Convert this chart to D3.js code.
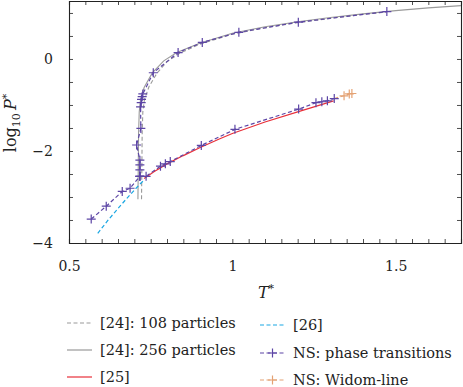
<!DOCTYPE html>
<html>
<head>
<meta charset="utf-8">
<script src="https://cdn.jsdelivr.net/npm/d3@7"></script>
<style>
  body { margin: 0; background: #fff; }
  text { font-family: "DejaVu Serif", serif; fill: #222; }
</style>
</head>
<body>
<div class="plot"></div>
<script>
// data (T*, log10 P*)

// [24]: 108 particles (dashed gray)
var t108 = [0.722, 0.723, 0.724, 0.726, 0.731, 0.745, 0.770, 0.800, 0.840, 0.900, 1.000, 1.100, 1.200, 1.300, 1.400, 1.470];
var p108 = [-3.05, -2.40, -1.60, -1.15, -0.88, -0.60, -0.30, -0.06, 0.13, 0.32, 0.54, 0.68, 0.79, 0.88, 0.97, 1.02];

// [24]: 256 particles (solid gray)
var t256 = [0.711, 0.712, 0.713, 0.715, 0.719, 0.730, 0.755, 0.790, 0.830, 0.900, 1.000, 1.100, 1.200, 1.300, 1.400, 1.500, 1.600, 1.700];
var p256 = [-3.05, -2.40, -1.60, -1.15, -0.88, -0.62, -0.30, -0.04, 0.14, 0.34, 0.56, 0.70, 0.81, 0.90, 0.98, 1.05, 1.11, 1.16];

// [25] (red)
var t25 = [0.730, 0.760, 0.800, 0.850, 0.900, 0.960, 1.000, 1.100, 1.200, 1.250, 1.310];
var p25 = [-2.60, -2.45, -2.28, -2.10, -1.93, -1.74, -1.62, -1.37, -1.15, -1.04, -0.91];

// [26] (cyan, dashed)
var t26 = [0.588, 0.620, 0.650, 0.682, 0.717, 0.730];
var p26 = [-3.79, -3.50, -3.25, -2.99, -2.72, -2.63];

// NS: phase transitions (three branches)
var tSub = [0.568, 0.614, 0.663, 0.687, 0.717];
var pSub = [-3.48, -3.20, -2.88, -2.81, -2.55];

var tMelt = [0.717, 0.717, 0.717, 0.717, 0.707, 0.720, 0.719, 0.721, 0.722, 0.724, 0.726, 0.758, 0.834, 0.908, 1.020, 1.202, 1.473];
var pMelt = [-2.55, -2.41, -2.30, -2.20, -1.87, -1.51, -1.04, -0.95, -0.88, -0.82, -0.76, -0.30, 0.14, 0.36, 0.58, 0.80, 1.03];

var tVap = [0.717, 0.736, 0.780, 0.795, 0.810, 0.905, 1.008, 1.203, 1.256, 1.274, 1.291, 1.312];
var pVap = [-2.55, -2.55, -2.33, -2.28, -2.23, -1.88, -1.53, -1.09, -0.95, -0.93, -0.91, -0.86];

// NS: Widom-line
var tWidom = [1.312, 1.342, 1.358, 1.366];
var pWidom = [-0.86, -0.80, -0.76, -0.75];

var xTicks = d3.range(0.5, 1.7001, 0.05);
var xLabels = [0.5, 1, 1.5];
var yTicks = d3.range(-4, 1.001, 0.5);
var yLabels = [0, -2, -4];

// chart setup
var svgWidth = 463;
var svgHeight = 387;
var margin = { top: 1, right: 2, bottom: 144, left: 69 };
var width = svgWidth - margin.left - margin.right;
var height = svgHeight - margin.top - margin.bottom;

var svg = d3.select(".plot")
  .append("svg")
  .attr("width", svgWidth)
  .attr("height", svgHeight);

var chartGroup = svg.append("g")
  .attr("transform", `translate(${margin.left}, ${margin.top})`);

var xScale = d3.scaleLinear().domain([0.5, 1.7]).range([0, width]);
var yScale = d3.scaleLinear().domain([-4, 1.26]).range([height, 0]);

var fmtX = d => xLabels.some(v => Math.abs(v - d) < 1e-6) ? String(+d.toFixed(2)) : "";
var fmtY = d => yLabels.some(v => Math.abs(v - d) < 1e-6) ? (d < -0.01 ? "\u2212" + Math.abs(Math.round(d)) : "0") : "";

// axes with inward ticks on all four sides
var axisBottomG = chartGroup.append("g")
  .attr("transform", `translate(0, ${height})`)
  .call(d3.axisBottom(xScale).tickValues(xTicks).tickSize(-4).tickPadding(18).tickFormat(fmtX));
var axisTopG = chartGroup.append("g")
  .call(d3.axisTop(xScale).tickValues(xTicks).tickSize(-4).tickFormat(""));
var axisLeftG = chartGroup.append("g")
  .call(d3.axisLeft(yScale).tickValues(yTicks).tickSize(-4).tickPadding(16).tickFormat(fmtY));
var axisRightG = chartGroup.append("g")
  .attr("transform", `translate(${width}, 0)`)
  .call(d3.axisRight(yScale).tickValues(yTicks).tickSize(-4).tickFormat(""));

[axisBottomG, axisTopG, axisLeftG, axisRightG].forEach(g => {
  g.select(".domain").attr("stroke", "#222").attr("stroke-width", 1.1);
  g.selectAll(".tick line").attr("stroke", "#222").attr("stroke-width", 0.8);
  g.selectAll("text").style("font-family", "DejaVu Serif, serif").style("font-size", "14px").attr("fill", "#222");
});

var line = d3.line().x(d => xScale(d[0])).y(d => yScale(d[1]));
var plot = chartGroup.append("g");

function drawLine(ts, ps, color, dash, w) {
  plot.append("path")
    .datum(d3.zip(ts, ps))
    .attr("d", line)
    .attr("fill", "none")
    .attr("stroke", color)
    .attr("stroke-width", w)
    .attr("stroke-dasharray", dash);
}
var plus = "M-4.5,0H4.5M0,-4.5V4.5";
function drawMarks(ts, ps, color) {
  plot.selectAll(null)
    .data(d3.zip(ts, ps))
    .enter()
    .append("path")
    .attr("d", plus)
    .attr("transform", d => `translate(${xScale(d[0])}, ${yScale(d[1])})`)
    .attr("stroke", color)
    .attr("stroke-width", 1.2)
    .attr("fill", "none");
}

var cGray = "#9a9a9a", cRed = "#e8303a", cCyan = "#1aa7e3", cPurple = "#5c45a5", cOrange = "#e4a274";

drawLine(t108, p108, cGray, "4,2.5", 1.1);
drawLine(t256, p256, cGray, null, 1.1);
drawLine(t25, p25, cRed, null, 1.2);
drawLine(t26, p26, cCyan, "4,2.5", 1.2);
drawLine(tSub, pSub, cPurple, "4,2.5", 1.2);
drawLine(tMelt, pMelt, cPurple, "4,2.5", 1.2);
drawLine(tVap, pVap, cPurple, "4,2.5", 1.2);
drawLine(tWidom, pWidom, cOrange, "4,2.5", 1.2);
drawMarks(tSub, pSub, cPurple);
drawMarks(tMelt, pMelt, cPurple);
drawMarks(tVap, pVap, cPurple);
drawMarks(tWidom.slice(1), pWidom.slice(1), cOrange);

// axis labels
var yLab = svg.append("text")
  .attr("transform", "translate(16, 123) rotate(-90)")
  .style("text-anchor", "middle")
  .style("font-size", "16px");
yLab.append("tspan").text("log");
yLab.append("tspan").attr("dy", 4).style("font-size", "11px").text("10");
yLab.append("tspan").attr("dy", -4).text("\u2009");
yLab.append("tspan").style("font-style", "italic").text("P");
yLab.append("tspan").attr("dy", -6).style("font-size", "11px").text("*");

var xLab = svg.append("text")
  .attr("x", 266).attr("y", 298)
  .style("text-anchor", "middle")
  .style("font-size", "16px");
xLab.append("tspan").style("font-style", "italic").text("T");
xLab.append("tspan").attr("dy", -6).style("font-size", "11px").text("*");

// legend
var legendItems = [
  { label: "[24]: 108 particles", color: cGray, dash: "4,2.5", mark: false, x: 67, y: 323 },
  { label: "[24]: 256 particles", color: cGray, dash: null, mark: false, x: 67, y: 350 },
  { label: "[25]", color: cRed, dash: null, mark: false, x: 67, y: 377 },
  { label: "[26]", color: cCyan, dash: "4,2.5", mark: false, x: 260, y: 325 },
  { label: "NS: phase transitions", color: cPurple, dash: "4,2.5", mark: true, x: 260, y: 353 },
  { label: "NS: Widom-line", color: cOrange, dash: "4,2.5", mark: true, x: 260, y: 380 }
];
var legend = svg.append("g");
legendItems.forEach(d => {
  legend.append("line")
    .attr("x1", d.x).attr("x2", d.x + 25)
    .attr("y1", d.y).attr("y2", d.y)
    .attr("stroke", d.color).attr("stroke-width", 1.2)
    .attr("stroke-dasharray", d.dash);
  if (d.mark) {
    legend.append("path")
      .attr("d", plus)
      .attr("transform", `translate(${d.x + 12.5}, ${d.y})`)
      .attr("stroke", d.color).attr("stroke-width", 1.2);
  }
  legend.append("text")
    .attr("x", d.x + 33).attr("y", d.y + 5)
    .style("font-size", "14.5px")
    .text(d.label);
});
</script>
</body>
</html>
